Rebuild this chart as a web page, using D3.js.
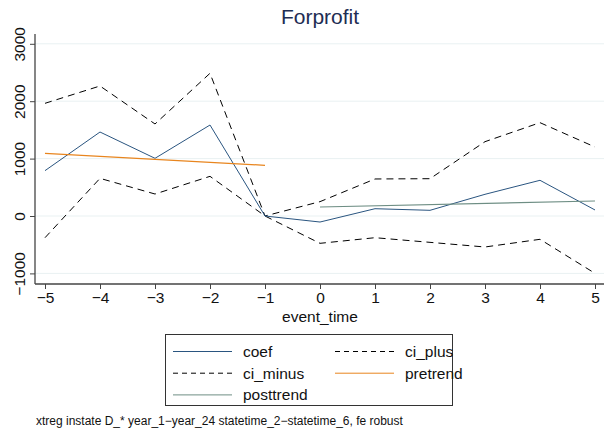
<!DOCTYPE html>
<html><head><meta charset="utf-8">
<script src="https://cdn.jsdelivr.net/npm/d3@7"></script>
<style>body{margin:0;background:#fff}svg{display:block;font-family:"Liberation Sans",Arial,sans-serif}</style>
</head><body><svg id="c" width="604" height="434"></svg>
<script>
const eventTime = [-5,-4,-3,-2,-1,0,1,2,3,4,5];
const coef     = [790,1463,1005,1585,0,-105,127,99,378,622,105];
const ciPlus   = [1963,2265,1603,2486,0,250,645,650,1295,1626,1202];
const ciMinus  = [-378,656,383,691,0,-476,-378,-459,-540,-406,-999];
const pretrendX = [-5,-1];
const pretrend  = [1092,883];
const posttrendX = [0,5];
const posttrend  = [157,261];
const yTicks = [-1000,0,1000,2000,3000];
const xTicks = eventTime;
const titleText = "Forprofit";
const xTitle = "event_time";
const noteText = "xtreg instate D_* year_1\u2212year_24 statetime_2\u2212statetime_6, fe robust";
const legendItems = [
  {label:"coef", color:"#2a5580", dash:null},
  {label:"ci_plus", color:"#000", dash:"5,4"},
  {label:"ci_minus", color:"#000", dash:"5,4"},
  {label:"pretrend", color:"#e8851e", dash:null},
  {label:"posttrend", color:"#6e8e84", dash:null}
];

(function(){
const svg = d3.select("#c");
const x = d3.scaleLinear().domain([-5,5]).range([45,595]);
const y = d3.scaleLinear().domain([0,1000]).range([216,158.6]);
const pl = 35, pr = 604, pt = 34, pb = 284;
const fmt = d=>d<0?"\u2212"+Math.abs(d):String(d);

svg.append("g").selectAll("line").data(yTicks).join("line")
  .attr("x1",pl).attr("x2",pr).attr("y1",d=>y(d)).attr("y2",d=>y(d))
  .attr("stroke","#e9f1f2").attr("stroke-width",1);

const yAxis = svg.append("g").attr("transform",`translate(${pl},0)`)
  .call(d3.axisLeft(y).tickValues(yTicks).tickSize(5).tickFormat(fmt));
yAxis.select(".domain").attr("d",`M0,${pt}V${pb}`).attr("stroke","#444").attr("stroke-width",1.3);
yAxis.selectAll(".tick line").attr("stroke","#444");
yAxis.selectAll(".tick text").attr("x",null).attr("dy",null)
  .attr("transform","translate(-10,0) rotate(-90)").attr("text-anchor","middle")
  .style("font-size","15.5px").attr("fill","#111").style("font-family","Liberation Sans, Arial, sans-serif");

const xAxis = svg.append("g").attr("transform",`translate(0,${pb})`)
  .call(d3.axisBottom(x).tickValues(xTicks).tickSize(5).tickFormat(fmt));
xAxis.select(".domain").attr("d",`M${pl},0H${pr}`).attr("stroke","#444").attr("stroke-width",1.3);
xAxis.selectAll(".tick line").attr("stroke","#444");
xAxis.selectAll(".tick text").attr("y",8).attr("dy","0.71em")
  .style("font-size","15.5px").attr("fill","#111").style("font-family","Liberation Sans, Arial, sans-serif");

const line = d3.line().x(d=>x(d[0])).y(d=>y(d[1]));
const pairs = (xs,ys)=>xs.map((v,i)=>[v,ys[i]]);

svg.append("path").attr("d",line(pairs(eventTime,ciPlus))).attr("fill","none")
  .attr("stroke","#000").attr("stroke-width",1).attr("stroke-dasharray","7,5");
svg.append("path").attr("d",line(pairs(eventTime,ciMinus))).attr("fill","none")
  .attr("stroke","#000").attr("stroke-width",1).attr("stroke-dasharray","7,5");
svg.append("path").attr("d",line(pairs(eventTime,coef))).attr("fill","none")
  .attr("stroke","#2a5580").attr("stroke-width",1);
svg.append("path").attr("d",line(pairs(pretrendX,pretrend))).attr("fill","none")
  .attr("stroke","#e8851e").attr("stroke-width",1.2);
svg.append("path").attr("d",line(pairs(posttrendX,posttrend))).attr("fill","none")
  .attr("stroke","#6e8e84").attr("stroke-width",1.2);

svg.append("text").attr("x",320).attr("y",24).attr("text-anchor","middle")
  .style("font-size","21px").attr("fill","#1e2d53").text(titleText);
svg.append("text").attr("x",320).attr("y",322).attr("text-anchor","middle")
  .style("font-size","15.5px").attr("fill","#111").text(xTitle);

const lg = svg.append("g");
lg.append("rect").attr("x",165.5).attr("y",334.5).attr("width",287).attr("height",71)
  .attr("fill","#fff").attr("stroke","#333").attr("stroke-width",1);
legendItems.forEach((it,i)=>{
  const col = i%2, row = Math.floor(i/2);
  const lx = col===0 ? 173 : 335;
  const cy = 351.5 + row*21.7;
  lg.append("line").attr("x1",lx).attr("x2",lx+59).attr("y1",cy).attr("y2",cy)
    .attr("stroke",it.color).attr("stroke-width",1).attr("stroke-dasharray",it.dash);
  lg.append("text").attr("x",lx+70).attr("y",cy).attr("dy","0.35em")
    .style("font-size","15.5px").attr("fill","#111").text(it.label);
});

svg.append("text").attr("x",36).attr("y",425).style("font-size","12px").attr("fill","#111").text(noteText);
})();
</script></body></html>
